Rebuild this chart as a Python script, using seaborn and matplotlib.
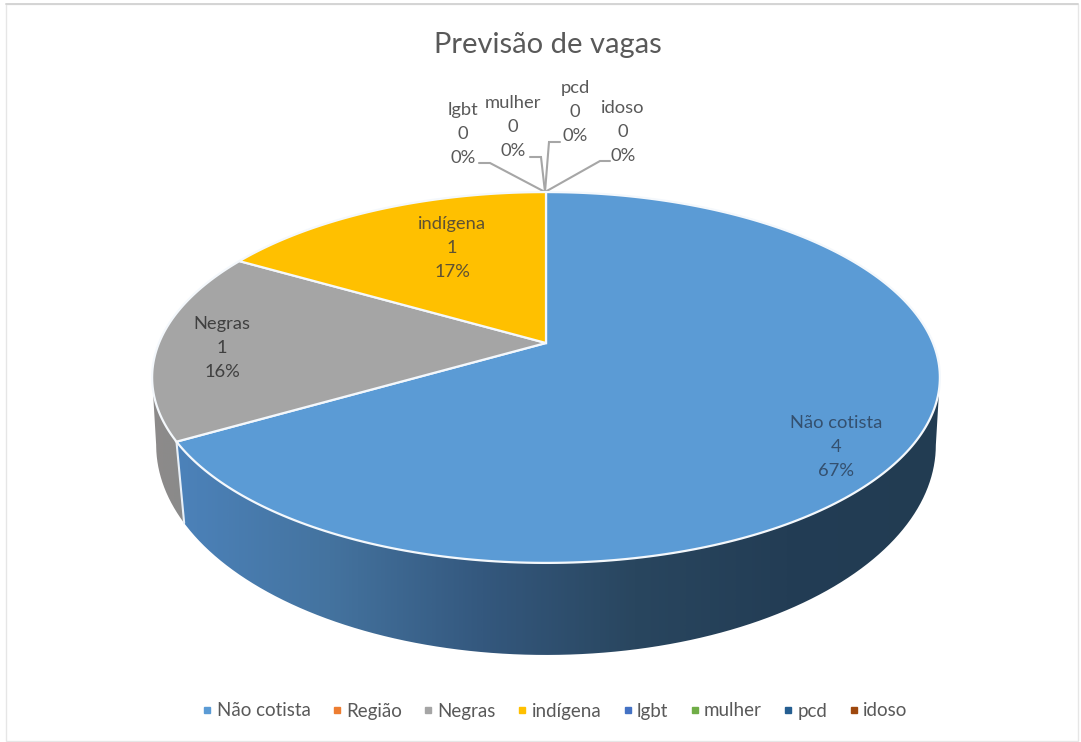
import numpy as np
import matplotlib
matplotlib.use("Agg")
import matplotlib.pyplot as plt
import seaborn as sns
from matplotlib.transforms import Transform, Affine2D
from matplotlib.path import Path
from matplotlib.patches import Rectangle, PathPatch
from matplotlib.lines import Line2D

categories = ["Não cotista", "Região", "Negras", "indígena", "lgbt", "mulher", "pcd", "idoso"]
values = [4, 0, 1, 1, 0, 0, 0, 0]
percents = [67, 0, 16, 17, 0, 0, 0, 0]
colors = ["#5B9BD5", "#ED7D31", "#A5A5A5", "#FFC000", "#4472C4", "#70AD47", "#255E91", "#9E480E"]
title = "Previsão de vagas"

sns.set_theme(style="white")
plt.rcParams["font.family"] = ["Lato", "DejaVu Sans"]
palette = sns.color_palette(colors)
TXT = "#595959"

# perspective geometry of the disc (pixel space): centre x, apex y, x/y scale, tilt
AX = 546.0
TOP = (343.0, 387.0, 179.0, 0.186)
BOT = (412.0, 385.0, 204.8, 0.157)


def persp(pts, geo=TOP):
    ay, sx, sy, k = geo
    pts = np.asarray(pts, float)
    d = 1 + k * pts[:, 1]
    return np.column_stack([AX + sx * pts[:, 0] / d, ay - sy * pts[:, 1] / d])


class Persp(Transform):
    input_dims = output_dims = 2
    is_affine = False
    has_inverse = False

    def transform_non_affine(self, v):
        return persp(v)

    def transform_path_non_affine(self, path):
        big = path.transformed(Affine2D().scale(3000))
        polys = big.to_polygons(closed_only=True)
        return Path(persp(polys[0] / 3000.0), closed=True)


def ring(a0, a1, n=200):
    t = np.radians(np.linspace(a0, a1, n))
    return np.column_stack([np.cos(t), np.sin(t)])


fig = plt.figure(figsize=(10.81, 7.42), dpi=100, facecolor="white")
ax = fig.add_axes([0, 0, 1, 1])

wedges, _ = ax.pie(values, colors=palette, startangle=90, counterclock=False,
                   wedgeprops=dict(edgecolor="#F4F8FC", linewidth=1.6, zorder=5))
lim_t = np.degrees(np.arcsin(TOP[3]))
lim_b = np.degrees(np.arcsin(BOT[3]))


def wall(top_a, bot_a, cmap):
    top = persp(ring(*top_a), TOP)
    bot = persp(ring(*bot_a), BOT)
    verts = np.vstack([top, bot, top[:1]])
    x0, x1 = verts[:, 0].min(), verts[:, 0].max()
    y0, y1 = verts[:, 1].min(), verts[:, 1].max()
    im = ax.imshow(np.linspace(0, 1, 512)[None, :], extent=[x0, x1, y1, y0],
                   aspect="auto", cmap=cmap, zorder=2, interpolation="bilinear")
    im.set_clip_path(PathPatch(Path(verts, closed=False), transform=ax.transData))


for w, v in zip(wedges, values):
    if v == 0:
        w.set_visible(False)
        continue
    w.set_transform(Persp() + ax.transData)

blue = wedges[0]
a0 = blue.theta1 if blue.theta1 < 0 else blue.theta1 - 360
wall((a0, -lim_t), (-lim_b, a0),
     sns.blend_palette(["#4C82BA", "#44739F", "#34587E", "#29465F", "#233D55", "#223C52"], as_cmap=True))
wall((-180 + lim_t, a0), (a0, -180 + lim_b),
     sns.blend_palette(["#8D8B8A", "#8A8A8A"], as_cmap=True))
corner = np.vstack([persp(ring(a0, a0, 1), TOP), persp(ring(a0, a0, 1), BOT)])
ax.plot(corner[:, 0], corner[:, 1], color="#E8F0F8", lw=1.5, zorder=3)

# leader lines for the empty slices
apex = (545, 192)
leaders = [((479, 163), (490, 163)), ((530, 157), (541, 157)),
           ((560, 142), (549, 142)), ((610, 161), (600, 161))]
for p, q in leaders:
    ax.plot([p[0], q[0], apex[0]], [p[1], q[1], apex[1]], color="#A6A6A6", lw=1.5, zorder=4,
            solid_joinstyle="miter")

label_xy = {"Não cotista": (836, 447), "Negras": (222, 348), "indígena": (452, 248),
            "lgbt": (463, 134), "mulher": (513, 127), "pcd": (575, 112), "idoso": (623, 132)}
label_col = {"Não cotista": "#34506F", "Negras": "#404040", "indígena": "#5F5233"}
for cat, v, pct in zip(categories, values, percents):
    if cat not in label_xy:
        continue
    x, y = label_xy[cat]
    ax.text(x, y, f"{cat}\n{v}\n{pct}%", ha="center", va="center", fontsize=13.2,
            color=label_col.get(cat, TXT), linespacing=1.62, zorder=6)

ax.text(548, 45, title, ha="center", va="center", fontsize=21, color=TXT, zorder=6)

handles = [Line2D([], [], ls="", marker="s", ms=5.0, mfc=c, mec=c, label=n)
           for c, n in zip(palette, categories)]
leg = ax.legend(handles=handles, ncol=8, frameon=False, loc="center",
                bbox_to_anchor=(555 / 1081, 1 - 711 / 742), fontsize=13.5, labelcolor=TXT,
                columnspacing=1.15, handletextpad=0.25, handlelength=0.5, borderpad=0)

ax.add_patch(Rectangle((6, 4), 1072, 737, fill=False, ec="#E6E6E6", lw=1.0, zorder=1))
ax.plot([6, 1078], [4, 4], color="#D4D4D4", lw=1.4, zorder=1)
ax.set_aspect("auto")
ax.set_xlim(0, 1081)
ax.set_ylim(742, 0)
ax.set_axis_off()
fig.savefig("out.png", dpi=100, facecolor="white")
